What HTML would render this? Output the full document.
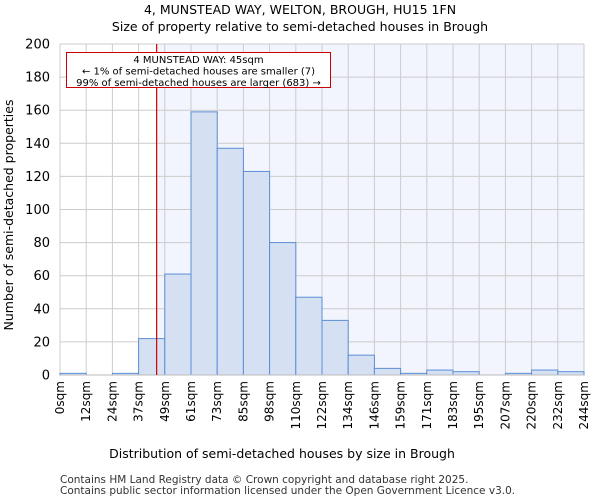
<!DOCTYPE html>
<html><head><meta charset="utf-8"><style>
body{margin:0;background:#fff;font-family:"DejaVu Sans","Liberation Sans",sans-serif;}
</style></head><body>
<svg id="chart" width="600" height="500" xmlns="http://www.w3.org/2000/svg" font-family="DejaVu Sans, Liberation Sans, sans-serif">
<text x="300" y="14" text-anchor="middle" font-size="12.5">4, MUNSTEAD WAY, WELTON, BROUGH, HU15 1FN</text>
<text x="300" y="31" text-anchor="middle" font-size="12.5">Size of property relative to semi-detached houses in Brough</text>
<g id="plot"></g>
<text x="282" y="458" text-anchor="middle" font-size="12.5">Distribution of semi-detached houses by size in Brough</text>
<text transform="translate(13,215) rotate(-90)" text-anchor="middle" font-size="12.5">Number of semi-detached properties</text>
<text x="60" y="483" font-size="10.5" fill="#333">Contains HM Land Registry data © Crown copyright and database right 2025.</text>
<text x="60" y="494" font-size="10.5" fill="#333">Contains public sector information licensed under the Open Government Licence v3.0.</text>
</svg>
<script>
const binLabels=["0sqm","12sqm","24sqm","37sqm","49sqm","61sqm","73sqm","85sqm","98sqm","110sqm","122sqm","134sqm","146sqm","159sqm","171sqm","183sqm","195sqm","207sqm","220sqm","232sqm","244sqm"];
const counts=[1,0,1,22,61,159,137,123,80,47,33,12,4,1,3,2,0,1,3,2];
const yTicks=[0,20,40,60,80,100,120,140,160,180,200];
const markerSqm=45;
const xMinSqm=0, xMaxSqm=244;
const X0=60,X1=584,Y0=375,Y1=44,YMAX=200;
const nb=counts.length, bw=(X1-X0)/nb;
const xb=i=>X0+i*bw;
const xs=v=>X0+(v-xMinSqm)/(xMaxSqm-xMinSqm)*(X1-X0);
const ys=v=>Y0-v/YMAX*(Y0-Y1);
const NS="http://www.w3.org/2000/svg";
const g=document.getElementById('plot');
function mk(t,a){const e=document.createElementNS(NS,t);for(const k in a)e.setAttribute(k,a[k]);g.appendChild(e);return e;}
let e;
e=mk('rect',{x:X0,y:Y1,width:X1-X0,height:Y0-Y1,fill:'#fff'});


const mx=xs(markerSqm);
e=mk('rect',{x:mx,y:Y1,width:X1-mx,height:Y0-Y1,fill:'#f2f5fd'});


for(let i=0;i<binLabels.length;i++){
 e=mk('line',{x1:xb(i),x2:xb(i),y1:Y1,y2:Y0,stroke:'#ccc','stroke-width':1});
 
 
 e=mk('text',{transform:`translate(${xb(i)+4},381) rotate(-90)`,'text-anchor':'end','font-size':12});
 e.textContent=binLabels[i];
 
 
}
yTicks.forEach(t=>{
 e=mk('line',{x1:X0,x2:X1,y1:ys(t),y2:ys(t),stroke:'#ccc','stroke-width':1});
 
 
 e=mk('text',{x:50,y:ys(t)+4.5,'text-anchor':'end','font-size':13});
 e.textContent=t;
 
 
});
counts.forEach((c,i)=>{
 e=mk('rect',{x:xb(i),y:ys(c),width:bw,height:Y0-ys(c),fill:'#d6e0f3',stroke:'#5b8ed6','stroke-width':1});
 
 
});
e=mk('line',{x1:X0,x2:X1,y1:Y0,y2:Y0,stroke:'#bbb','stroke-width':1});


e=mk('line',{x1:mx,x2:mx,y1:Y1,y2:Y0,stroke:'#cc0000','stroke-width':1.2});


e=mk('rect',{x:66.5,y:52.5,width:264,height:35,fill:'#fff',stroke:'#cc0000','stroke-width':1});


const ann=["4 MUNSTEAD WAY: 45sqm","← 1% of semi-detached houses are smaller (7)","99% of semi-detached houses are larger (683) →"];
ann.forEach((s,k)=>{
 e=mk('text',{x:198.5,y:63+k*11.5,'text-anchor':'middle','font-size':10});
 e.textContent=s;
 
 
});
</script>
</body></html>
